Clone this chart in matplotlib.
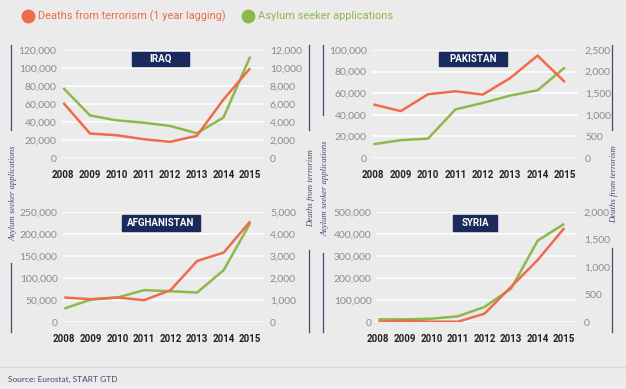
import matplotlib
matplotlib.use("Agg")
import matplotlib.pyplot as plt
from matplotlib.lines import Line2D
from matplotlib.patches import Rectangle

years = [2008, 2009, 2010, 2011, 2012, 2013, 2014, 2015]

countries = ["IRAQ", "PAKISTAN", "AFGHANISTAN", "SYRIA"]

# asylum seeker applications (left axis)
iraq_asylum = [77800, 47300, 41800, 39300, 35600, 27500, 45000, 112700]
pakistan_asylum = [12800, 16500, 18000, 45000, 51000, 57800, 62700, 83800]
afghanistan_asylum = [30500, 51000, 55600, 72400, 70000, 67000, 118000, 225000]
syria_asylum = [12000, 12000, 15000, 26000, 68600, 152000, 370000, 446000]

# deaths from terrorism, 1 year lagging (right axis)
iraq_deaths = [6130, 2720, 2530, 2090, 1800, 2460, 6500, 9980]
pakistan_deaths = [1240, 1086, 1476, 1544, 1468, 1850, 2370, 1758]
afghanistan_deaths = [1113, 1037, 1113, 990, 1448, 2774, 3155, 4573]
syria_deaths = [6, 24, 6, 6, 152, 640, 1128, 1707]

left_ticks = [
    [0, 20000, 40000, 60000, 80000, 100000, 120000],
    [0, 20000, 40000, 60000, 80000, 100000],
    [0, 50000, 100000, 150000, 200000, 250000],
    [0, 100000, 200000, 300000, 400000, 500000],
]
right_ticks = [
    [0, 2000, 4000, 6000, 8000, 10000, 12000],
    [0, 500, 1000, 1500, 2000, 2500],
    [0, 1000, 2000, 3000, 4000, 5000],
    [0, 500, 1000, 1500, 2000],
]

asylum = [iraq_asylum, pakistan_asylum, afghanistan_asylum, syria_asylum]
deaths = [iraq_deaths, pakistan_deaths, afghanistan_deaths, syria_deaths]

ORANGE = "#ef6b4c"
GREEN = "#8db84b"
NAVY = "#1b2a5c"
BG = "#ebebeb"
TICK = "#8c8c8c"
LABEL = "#444a6e"

plt.rcParams["font.family"] = ["Lato", "DejaVu Sans"]

W, H = 626, 389
fig = plt.figure(figsize=(W / 100, H / 100), dpi=100, facecolor=BG)

def fx(px):
    return px / W

def fy(py):
    return 1 - py / H

# panel boxes in pixels: left, right, top (max gridline), bottom (zero)
panels = [(62, 263, 50, 158), (372, 578, 50, 158), (63, 263, 212, 322), (377, 577, 212, 322)]
title_w = [57, 68, 77, 44]
title_top = [52, 52, 215, 215]
title_h = [14, 14, 16, 16]

for i, (l, r, t, b) in enumerate(panels):
    ax = fig.add_axes([fx(l), fy(b), fx(r - l), fy(t) - fy(b)])
    ax.set_facecolor("none")
    ax2 = ax.twinx()
    ax.set_xlim(2007.95, 2015.48)
    ax.set_ylim(0, left_ticks[i][-1])
    ax2.set_ylim(0, right_ticks[i][-1])
    ax.set_yticks(left_ticks[i])
    ax2.set_yticks(right_ticks[i])
    ax.set_yticklabels(["{:,}".format(v) for v in left_ticks[i]])
    ax2.set_yticklabels(["{:,}".format(v) for v in right_ticks[i]])
    ax.set_xticks(years)
    ax.set_xticklabels([str(y) for y in years], fontweight="bold", color="#222222",
                       fontsize=7, family=["Roboto"])
    ax.tick_params(axis="x", length=0, pad=9)
    ax.tick_params(axis="y", length=0, pad=4, labelcolor=TICK, labelsize=7.5)
    ax2.tick_params(axis="y", length=0, pad=5, labelcolor=TICK, labelsize=7.5)
    for a in (ax, ax2):
        for s in a.spines.values():
            s.set_visible(False)
    ax.grid(axis="y", color="white", lw=1.1)
    ax.set_axisbelow(True)
    ax.plot(years, asylum[i], color=GREEN, lw=1.8, solid_capstyle="butt")
    ax2.plot(years, deaths[i], color=ORANGE, lw=1.8, solid_capstyle="butt")

    # navy title box
    cx = (l + r) / 2 - 2
    w = title_w[i]
    fig.patches.append(Rectangle((fx(cx - w / 2), fy(title_top[i] + title_h[i])), fx(w),
                                 fy(title_top[i]) - fy(title_top[i] + title_h[i]),
                                 transform=fig.transFigure, color=NAVY, zorder=5))
    fig.text(fx(cx), fy(title_top[i] + title_h[i] / 2), countries[i], color="white",
             fontweight="bold", fontsize=7, ha="center", va="center", zorder=6,
             family=["Roboto"])

# legend
fig.add_artist(Line2D([fx(28)], [fy(16)], marker="o", ms=9, color=ORANGE, lw=0))
fig.add_artist(Line2D([fx(248)], [fy(16)], marker="o", ms=9, color=GREEN, lw=0))
fig.text(fx(38), fy(16), "Deaths from terrorism (1 year lagging)", color=ORANGE,
         fontsize=7.9, va="center", ha="left", family=["Roboto"])
fig.text(fx(258), fy(16), "Asylum seeker applications", color=GREEN,
         fontsize=7.9, va="center", ha="left", family=["Roboto"])

# vertical axis labels with decorative rules
side_labels = [
    (13, "Asylum seeker applications", 193, [(45, 130), (263, 332)]),
    (311, "Deaths from terrorism", 188, [(45, 130), (250, 332)]),
    (325, "Asylum seeker applications", 188, [(45, 115), (253, 332)]),
    (614, "Deaths from terrorism", 184, [(45, 130), (248, 332)]),
]
for x, txt, yc, segs in side_labels:
    fig.text(fx(x), fy(yc), txt, rotation=90, ha="center", va="center",
             family=["Liberation Serif"], style="italic", fontsize=6.3, color=LABEL)
    for y0, y1 in segs:
        fig.lines.append(Line2D([fx(x - 2), fx(x - 2)], [fy(y0), fy(y1)],
                                transform=fig.transFigure, color=LABEL, lw=0.9))

# source
fig.lines.append(Line2D([0, 1], [fy(367), fy(367)], transform=fig.transFigure,
                        color="#d6d6d6", lw=0.8))
fig.text(fx(8), fy(379), "Source: Eurostat, START GTD", fontsize=6, color="#3c4a6a",
         va="center", ha="left")

fig.savefig("out.png", dpi=100, facecolor=BG)
